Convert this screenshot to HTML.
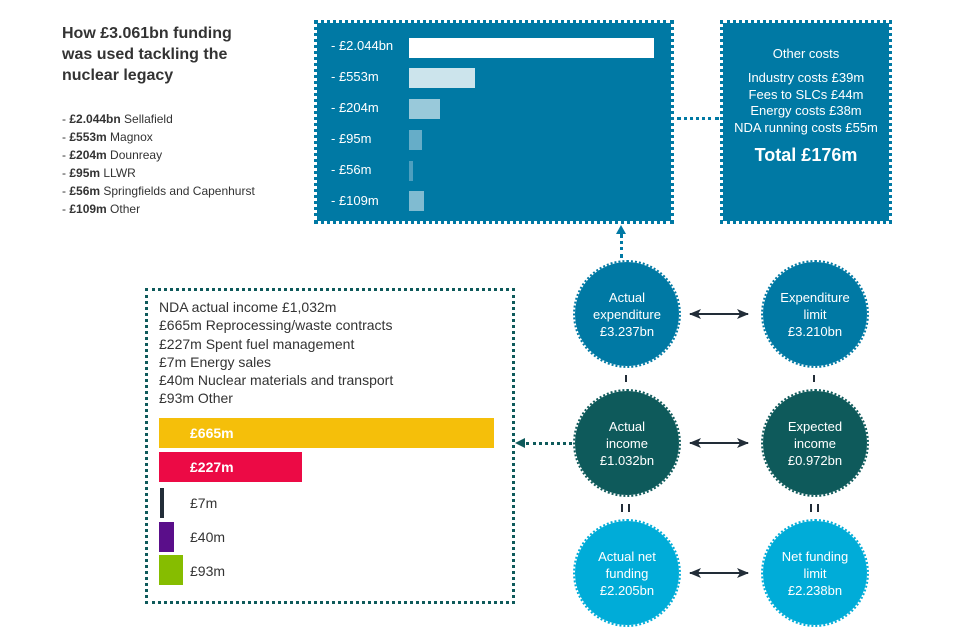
<!DOCTYPE html>
<html><head><meta charset="utf-8"><style>
body{margin:0;width:960px;height:640px;background:#fff;font-family:"Liberation Sans",sans-serif;position:relative;overflow:hidden}
.a{position:absolute}
.box{position:absolute;background:#0079a4;outline:3px dotted #0079a4;outline-offset:0px}
.lbl{position:absolute;color:#fff;font-size:13px;left:14px}
.bar{position:absolute;left:92px;height:20px}
.c{position:absolute;width:104px;height:104px;border-radius:50%;color:#fff;font-size:13px;text-align:center;display:flex;align-items:center;justify-content:center;line-height:17px}
.t{color:#333;font-size:12px;line-height:18px}
.inc{font-size:14px;color:#333;line-height:18.3px}
</style></head><body>
<div class="a" style="left:62px;top:23px;font-size:16px;font-weight:bold;color:#333;line-height:21px">How £3.061bn funding<br>was used tackling the<br>nuclear legacy</div>
<div class="a t" style="left:62px;top:110px">- <b>£2.044bn</b> Sellafield<br>- <b>£553m</b> Magnox<br>- <b>£204m</b> Dounreay<br>- <b>£95m</b> LLWR<br>- <b>£56m</b> Springfields and Capenhurst<br>- <b>£109m</b> Other</div>

<div class="box" style="left:317px;top:23px;width:354px;height:198px">
<div class="lbl" style="top:15px">- £2.044bn</div><div class="bar" style="top:15px;width:245px;background:#fff"></div>
<div class="lbl" style="top:46px">- £553m</div><div class="bar" style="top:45px;width:66px;background:#cce4ec"></div>
<div class="lbl" style="top:77px">- £204m</div><div class="bar" style="top:76px;width:31px;background:#99c9da"></div>
<div class="lbl" style="top:108px">- £95m</div><div class="bar" style="top:107px;width:13px;background:#66adc8"></div>
<div class="lbl" style="top:139px">- £56m</div><div class="bar" style="top:138px;width:4px;background:#4d9fbf"></div>
<div class="lbl" style="top:170px">- £109m</div><div class="bar" style="top:168px;width:15px;background:#80bbd1"></div>
</div>
<div class="box" style="left:723px;top:23px;width:166px;height:198px;color:#fff;text-align:center;font-size:13px">
<div style="margin-top:23px">Other costs</div>
<div style="margin-top:9px;line-height:16.5px">Industry costs £39m<br>Fees to SLCs £44m<br>Energy costs £38m<br>NDA running costs £55m</div>
<div style="margin-top:9px;font-size:18px;font-weight:bold">Total £176m</div>
</div>
<div class="a" style="left:677px;top:117px;width:42px;border-top:3px dotted #0079a4"></div>
<div class="a" style="left:620px;top:234px;height:24px;border-left:3px dotted #0079a4"></div>
<div class="a" style="left:616px;top:225px;width:0;height:0;border-left:5px solid transparent;border-right:5px solid transparent;border-bottom:9px solid #0079a4"></div>

<div class="a" style="left:145px;top:288px;width:364px;height:310px;border:3px dotted #0e5a5b"></div>
<div class="a inc" style="left:159px;top:298px">NDA actual income £1,032m<br>£665m Reprocessing/waste contracts<br>£227m Spent fuel management<br>£7m Energy sales<br>£40m Nuclear materials and transport<br>£93m Other</div>
<div class="a" style="left:159px;top:418px;width:335px;height:30px;background:#f5bf0a;color:#fff;font-weight:bold;font-size:14px;line-height:30px;padding-left:31px;box-sizing:border-box">£665m</div>
<div class="a" style="left:159px;top:452px;width:143px;height:30px;background:#ec0a45;color:#fff;font-weight:bold;font-size:14px;line-height:30px;padding-left:31px;box-sizing:border-box">£227m</div>
<div class="a" style="left:160px;top:488px;width:4px;height:30px;background:#222d38"></div>
<div class="a" style="left:159px;top:522px;width:15px;height:30px;background:#5a0e8a"></div>
<div class="a" style="left:159px;top:555px;width:24px;height:30px;background:#86bd00"></div>
<div class="a" style="left:190px;top:495px;font-size:14px;color:#333">£7m</div>
<div class="a" style="left:190px;top:529px;font-size:14px;color:#333">£40m</div>
<div class="a" style="left:190px;top:563px;font-size:14px;color:#333">£93m</div>
<div class="a" style="left:526px;top:442px;width:46px;border-top:3px dotted #0e5a5b"></div>
<div class="a" style="left:515px;top:438px;width:0;height:0;border-top:5px solid transparent;border-bottom:5px solid transparent;border-right:10px solid #0e5a5b"></div>

<div class="c" style="left:575px;top:262px;background:#0079a4;outline:2px dotted #0079a4">Actual<br>expenditure<br>£3.237bn</div>
<div class="c" style="left:763px;top:262px;background:#0079a4;outline:2px dotted #0079a4">Expenditure<br>limit<br>£3.210bn</div>
<div class="c" style="left:575px;top:391px;background:#0e5a5b;outline:2px dotted #0e5a5b">Actual<br>income<br>£1.032bn</div>
<div class="c" style="left:763px;top:391px;background:#0e5a5b;outline:2px dotted #0e5a5b">Expected<br>income<br>£0.972bn</div>
<div class="c" style="left:575px;top:521px;background:#00acd8;outline:2px dotted #00acd8">Actual net<br>funding<br>£2.205bn</div>
<div class="c" style="left:763px;top:521px;background:#00acd8;outline:2px dotted #00acd8">Net funding<br>limit<br>£2.238bn</div>

<svg class="a" style="left:0;top:0" width="960" height="640">
<defs><marker id="m" markerUnits="userSpaceOnUse" markerWidth="12" markerHeight="10" refX="11" refY="5" orient="auto-start-reverse"><path d="M0,0 L12,5 L0,10 L3,5Z" fill="#222d38"/></marker></defs>
<g stroke="#222d38" stroke-width="2">
<line x1="690" y1="314" x2="748" y2="314" marker-start="url(#m)" marker-end="url(#m)"/>
<line x1="690" y1="443" x2="748" y2="443" marker-start="url(#m)" marker-end="url(#m)"/>
<line x1="690" y1="573" x2="748" y2="573" marker-start="url(#m)" marker-end="url(#m)"/>
<line x1="626" y1="375" x2="626" y2="382"/><line x1="814" y1="375" x2="814" y2="382"/>
<line x1="622" y1="504" x2="622" y2="512"/><line x1="629" y1="504" x2="629" y2="512"/>
<line x1="811" y1="504" x2="811" y2="512"/><line x1="818" y1="504" x2="818" y2="512"/>
</g></svg>
</body></html>
